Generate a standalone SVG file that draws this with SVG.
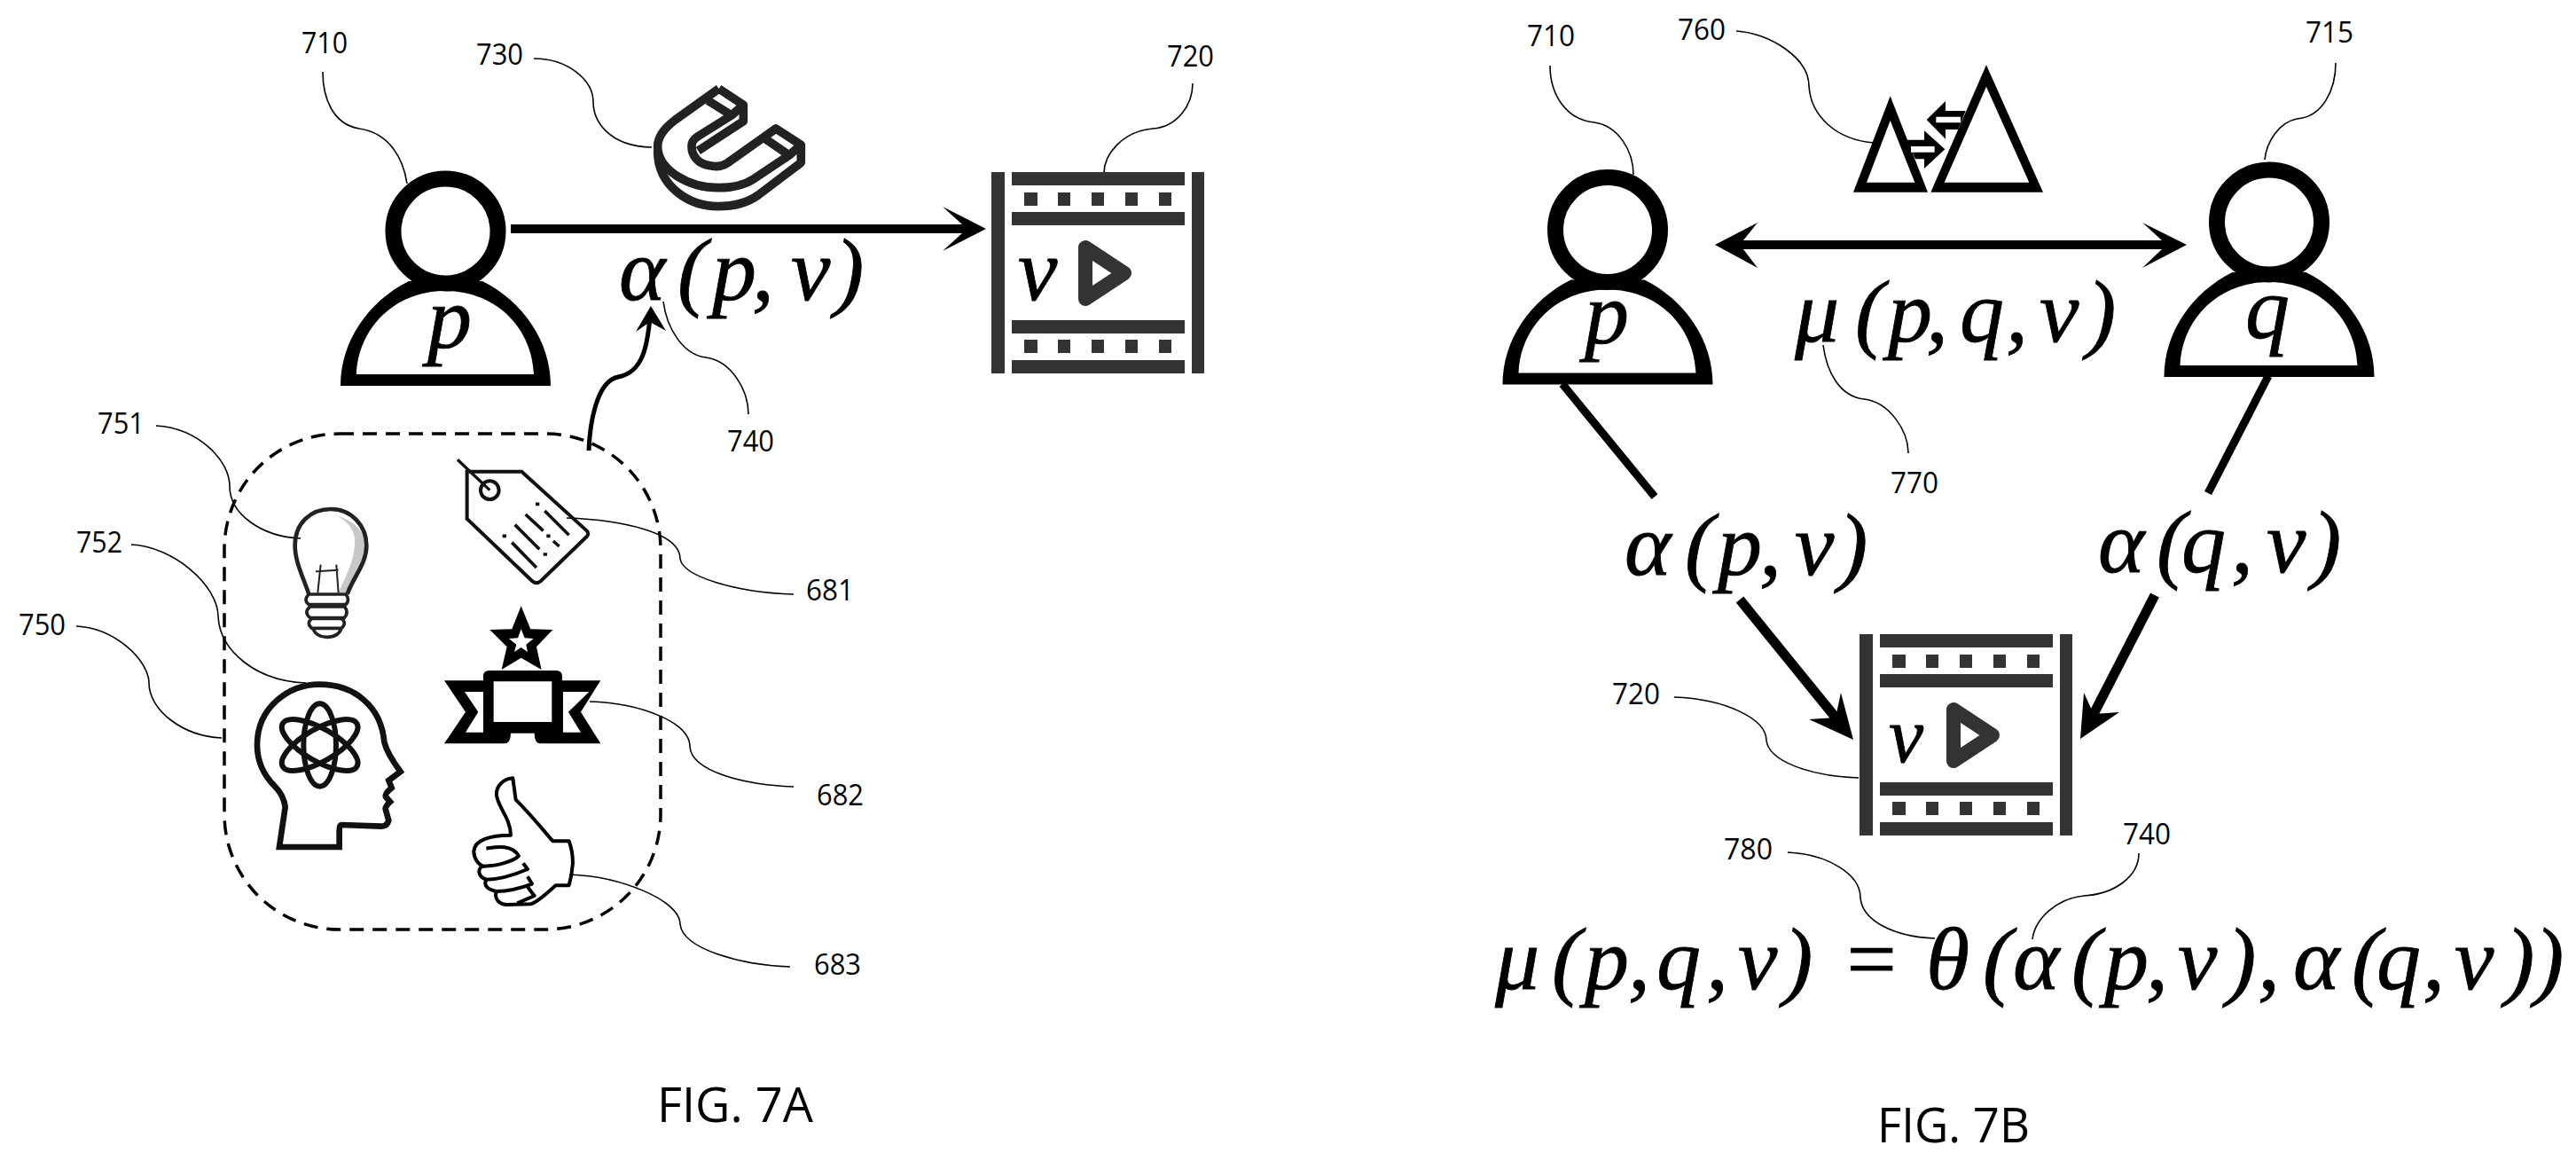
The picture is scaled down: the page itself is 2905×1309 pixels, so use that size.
<svg xmlns="http://www.w3.org/2000/svg" xmlns:xlink="http://www.w3.org/1999/xlink" width="2905" height="1309" viewBox="0 0 2905 1309">
<style>
text{fill:#000}
.n{font-family:"Open Sans","Liberation Sans",sans-serif;font-size:33px}
.fig{font-family:"Open Sans","Liberation Sans",sans-serif;font-size:55px}
.m{font-family:"Liberation Serif","DejaVu Serif",serif;font-style:italic;font-size:100px;stroke:#000;stroke-width:.8px}
.lead{fill:none;stroke:#000;stroke-width:1.6}
.thick{fill:none;stroke:#000;stroke-width:9}
.film{fill:#333}
</style>
<defs>
<g id="person"><circle cx="502.5" cy="260.5" r="59" fill="#fff" stroke="#000" stroke-width="18"/><path fill-rule="evenodd" d="M384 435C384 385 415 340 461 317L544 317C590 340 621 385 621 435ZM402 422L602 422C600 370 560 328 502 328C445 328 404 370 402 422Z"/></g>
<g id="filmstrip"><path class="film" d="M1118 194h15v227h-15zM1344 194h14v227h-14zM1141 194h195v15h-195zM1141 239h195v15h-195zM1141 361h195v15h-195zM1141 406h195v15h-195zM1155 217h15v15h-15zM1193 217h14v15h-14zM1231 217h14v15h-14zM1269 217h14v15h-14zM1307 217h14v15h-14zM1155 383h15v15h-15zM1193 383h14v15h-14zM1231 383h14v15h-14zM1269 383h14v15h-14zM1307 383h14v15h-14z"/><path d="M1224 279V337L1268 308Z" fill="none" stroke="#333" stroke-width="16" stroke-linejoin="round"/></g>
</defs>
<g id="connectors">
<path id="arrow-p-v" d="M576 253H1085L1063 233L1112 258L1063 283L1085 263H576Z"/>
<path d="M664 508C665 480 672 430 697 425C725 420 730 390 733 358" fill="none" stroke="#000" stroke-width="5"/>
<path d="M734 345L717 374L733 363L751 373Z"/>
<path d="M1934 276L1982 251L1966 271H2438L2416 251L2466 276L2416 302L2438 281H1966L1982 302Z"/>
<path class="thick" d="M1762 433L1866 560M2558 424L2490 556"/>
<path d="M1962 676L2070 809" fill="none" stroke="#000" stroke-width="11"/>
<path d="M2090 834L2076 781L2070 809L2040 811Z"/>
<path d="M2430 671L2361 805" fill="none" stroke="#000" stroke-width="11"/>
<path d="M2346 833L2350 781L2361 805L2390 803Z"/>
</g>
<g id="leaders">
<path class="lead" d="M364 81C364 110 375 140 405 145C440 150 455 180 459 207"/>
<path class="lead" d="M602 66C640 66 669 90 669 115C669 135 685 165 735 166"/>
<path class="lead" d="M1345 94C1345 118 1328 143 1300 145C1265 148 1245 175 1245 195"/>
<path class="lead" d="M748 340C752 370 770 400 796 403C825 407 844 440 844 467"/>
<path class="lead" d="M176 480C225 483 259 520 259 548C259 580 295 605 339 607"/>
<path class="lead" d="M148 614C195 616 246 660 246 695C248 735 290 768 345 770"/>
<path class="lead" d="M86 706C130 708 168 745 168 770C168 800 205 830 250 832"/>
<path class="lead" d="M639 584C700 586 767 600 767 630C770 650 830 668 895 670"/>
<path class="lead" d="M665 791C725 793 778 815 778 842C780 870 840 885 895 887"/>
<path class="lead" d="M642 986C700 988 767 1015 767 1042C770 1070 835 1088 891 1090"/>
<path class="lead" d="M1748 74C1748 105 1765 135 1798 138C1825 142 1842 170 1842 197"/>
<path class="lead" d="M1958 35C1995 37 2040 65 2040 97C2042 130 2070 158 2114 161"/>
<path class="lead" d="M2634 71C2634 100 2620 132 2590 134C2570 138 2556 160 2554 180"/>
<path class="lead" d="M2056 389C2060 420 2075 447 2102 450C2130 453 2152 485 2152 511"/>
<path class="lead" d="M1888 786C1945 788 1992 810 1992 835C1995 858 2040 875 2096 877"/>
<path class="lead" d="M2016 961C2060 963 2098 985 2098 1012C2100 1038 2135 1056 2182 1058"/>
<path class="lead" d="M2412 962C2412 988 2385 1008 2350 1010C2320 1013 2295 1035 2292 1059"/>
</g>
<g id="person-p-a"><use href="#person"/><text class="m" x="482" y="392">p</text></g>
<g id="film-a"><use href="#filmstrip"/><text class="m" x="1148" y="338">v</text></g>
<g id="magnet-730" transform="translate(700 80) scale(.3333)" fill="none" stroke="#222" stroke-width="29" stroke-linejoin="round">
<path d="M332 60L415 115V170L262 270"/>
<path d="M332 60L185 165C145 195 125 225 125 255C125 335 230 395 330 395C375 395 420 385 450 365L570 285L610 250L525 195L360 312C340 325 320 325 300 320C260 315 240 285 240 255C240 240 245 232 260 222L375 150L415 115"/>
<path d="M295 100L375 150M490 230L570 285"/>
<path d="M610 250V310L465 420C430 445 380 458 330 458C230 458 125 390 125 270"/>
</g>
<g id="container-750"><rect x="253" y="489" width="492" height="559" rx="130" ry="130" fill="none" stroke="#000" stroke-width="3.5" stroke-dasharray="16 10"/></g>
<g id="bulb-751" transform="translate(270 500) scale(.3333)" fill="none" stroke="#222">
<path d="M330 245C390 260 425 300 425 345C425 400 385 460 360 505H335C365 440 395 380 390 320C385 285 360 260 330 245Z" fill="#c8c8c8" stroke="none"/>
<path d="M235 510C215 450 188 400 188 345C188 270 240 222 310 222C380 222 430 280 430 345C430 410 385 450 365 510" stroke-width="14"/>
<path d="M275 410L265 505M328 410L335 505M258 433L335 428" stroke-width="6"/>
<path d="M235 510H360Q375 530 360 545H235Q215 530 235 510ZM240 552H355Q372 570 355 590H240Q215 570 240 552ZM245 592H345Q365 608 345 625H245Q225 608 245 592ZM248 625Q260 655 295 655Q335 655 345 625" stroke-width="11"/>
</g>
<g id="tag-681" transform="translate(270 500) scale(.3333)" fill="none" stroke="#111">
<path d="M770 95H955L1175 295Q1185 305 1175 315L1020 465Q1005 478 990 465L770 255Z" stroke-width="12"/>
<circle cx="847" cy="158" r="31" stroke-width="12"/>
<path d="M738 55L847 158" stroke-width="10"/>
<path d="M1033 228L1115 310M968 240L1028 295M932 275L1015 358M922 335L1005 420M1062 330L1082 348" stroke-width="11"/>
<path d="M1002 205h13M890 313h13M1039 313h13M1028 375h13" stroke-width="11"/>
</g>
<g id="award-682" transform="translate(270 680) scale(.3333)">
<path d="M953 10L985 88L1060 90L1005 148L1022 225L953 185L887 225L905 148L847 90L922 88Z"/>
<path d="M953 88L965 118L995 120L970 140L975 165L953 150L930 165L937 140L912 120L942 118Z" fill="#fff"/>
<path d="M845 228H1072Q1092 228 1092 248V262H1222L1155 368L1222 475H1020Q998 475 998 440H918Q918 475 895 475H693L765 368L693 262H825V248Q825 228 845 228Z"/>
<path d="M860 265H1057V402H860ZM762 300H825V437H765L808 368ZM1183 300H1095V437H1155L1113 368Z" fill="#fff"/>
</g>
<g id="head-752" transform="translate(270 680) scale(.3333)" fill="none" stroke="#111">
<path d="M135 825L155 690Q150 650 120 620Q60 560 60 480C60 350 170 275 270 275C390 275 480 350 490 470Q500 510 545 570Q525 585 505 600L515 625Q490 645 495 655L510 672Q490 690 495 700L505 735Q500 755 480 755L345 750Q338 750 338 770V825Z" stroke-width="20"/>
<g stroke-width="18"><ellipse cx="272" cy="480" rx="140" ry="55" transform="rotate(90 272 480)"/><ellipse cx="272" cy="480" rx="145" ry="55" transform="rotate(30 272 480)"/><ellipse cx="272" cy="480" rx="145" ry="55" transform="rotate(-30 272 480)"/></g>
</g>
<g id="thumb-683" transform="translate(270 680) scale(.3333)" fill="none" stroke="#000" stroke-width="12" stroke-linejoin="round">
<path d="M925 592C890 595 868 620 870 650C875 690 918 730 918 785C850 785 795 800 793 840C793 865 810 885 825 890C805 895 805 925 835 935C825 955 840 970 870 975C860 1000 880 1020 905 1020L985 1018Q1005 1015 1070 955H1115Q1125 920 1128 880Q1128 840 1115 805H1060C1030 770 990 720 935 665Z"/>
<path d="M835 830C870 825 920 815 945 855C930 870 880 890 825 890M960 880L975 900C940 915 880 935 835 935M975 925L990 950C950 965 910 975 870 975M975 960L998 990L940 1015"/>
</g>
<g id="person-p-b"><use href="#person" x="1310.5" y="-1.5"/><text class="m" x="1787" y="387">p</text></g>
<g id="person-q-b"><use href="#person" x="2056.5" y="-10"/><text class="m" x="2532" y="381">q</text></g>
<g id="film-b"><use href="#filmstrip" x="979" y="521"/><text class="m" x="2130" y="859" style="font-size:88px">v</text></g>
<g id="similarity-760" transform="translate(2070 60) scale(.3333)" fill-rule="evenodd">
<path d="M185 145L60 470H312ZM185 228L268 437H105Z"/>
<path d="M510 40L322 470H702ZM510 113L655 437H368Z"/>
<path d="M240 293H300V262L370 325L300 390V358H270Z"/>
<path d="M440 195H372V162L308 225L372 290V258H415Z"/>
<path d="M255 315H335V335H255ZM340 215H423V235H340Z" fill="#fff"/>
</g>
<g id="formulas">
<text class="m" x="698 764 803 848 870 892 941" y="338">α(p, v)</text>
<text class="m" x="2024 2092 2129 2172 2190 2210 2262 2280 2300 2353" y="385">μ(p, q, v)</text>
<text class="m" x="1832 1900 1937 1984 2004 2024 2073" y="648">α(p, v)</text>
<text class="m" x="2366 2432 2460 2516 2536 2556 2607" y="645">α(q, v)</text>
<text class="m" x="1686 1750 1787 1836 1855 1868 1924 1943 1960 2011 2040 2076 2120 2172 2236 2270 2336 2373 2420 2438 2456 2511 2546 2570 2586 2652 2680 2732 2750 2768 2825 2858" y="1115">μ(p, q, v) = θ(α(p, v), α(q, v))</text>
</g>
<g id="labels">
<text class="n" x="340" y="60" textLength="52" lengthAdjust="spacingAndGlyphs">710</text>
<text class="n" x="537" y="73" textLength="53" lengthAdjust="spacingAndGlyphs">730</text>
<text class="n" x="1316" y="75" textLength="53" lengthAdjust="spacingAndGlyphs">720</text>
<text class="n" x="820" y="509" textLength="53" lengthAdjust="spacingAndGlyphs">740</text>
<text class="n" x="110" y="489" textLength="53" lengthAdjust="spacingAndGlyphs">751</text>
<text class="n" x="86" y="623" textLength="52" lengthAdjust="spacingAndGlyphs">752</text>
<text class="n" x="21" y="716" textLength="53" lengthAdjust="spacingAndGlyphs">750</text>
<text class="n" x="909" y="677" textLength="54" lengthAdjust="spacingAndGlyphs">681</text>
<text class="n" x="921" y="908" textLength="53" lengthAdjust="spacingAndGlyphs">682</text>
<text class="n" x="918" y="1099" textLength="53" lengthAdjust="spacingAndGlyphs">683</text>
<text class="n" x="1722" y="52" textLength="54" lengthAdjust="spacingAndGlyphs">710</text>
<text class="n" x="1892" y="45" textLength="54" lengthAdjust="spacingAndGlyphs">760</text>
<text class="n" x="2600" y="48" textLength="54" lengthAdjust="spacingAndGlyphs">715</text>
<text class="n" x="2132" y="556" textLength="54" lengthAdjust="spacingAndGlyphs">770</text>
<text class="n" x="1818" y="794" textLength="54" lengthAdjust="spacingAndGlyphs">720</text>
<text class="n" x="1944" y="969" textLength="55" lengthAdjust="spacingAndGlyphs">780</text>
<text class="n" x="2394" y="952" textLength="54" lengthAdjust="spacingAndGlyphs">740</text>
<text class="fig" x="741" y="1265" textLength="176" lengthAdjust="spacingAndGlyphs">FIG. 7A</text>
<text class="fig" x="2117" y="1288" textLength="172" lengthAdjust="spacingAndGlyphs">FIG. 7B</text>
</g>
</svg>
